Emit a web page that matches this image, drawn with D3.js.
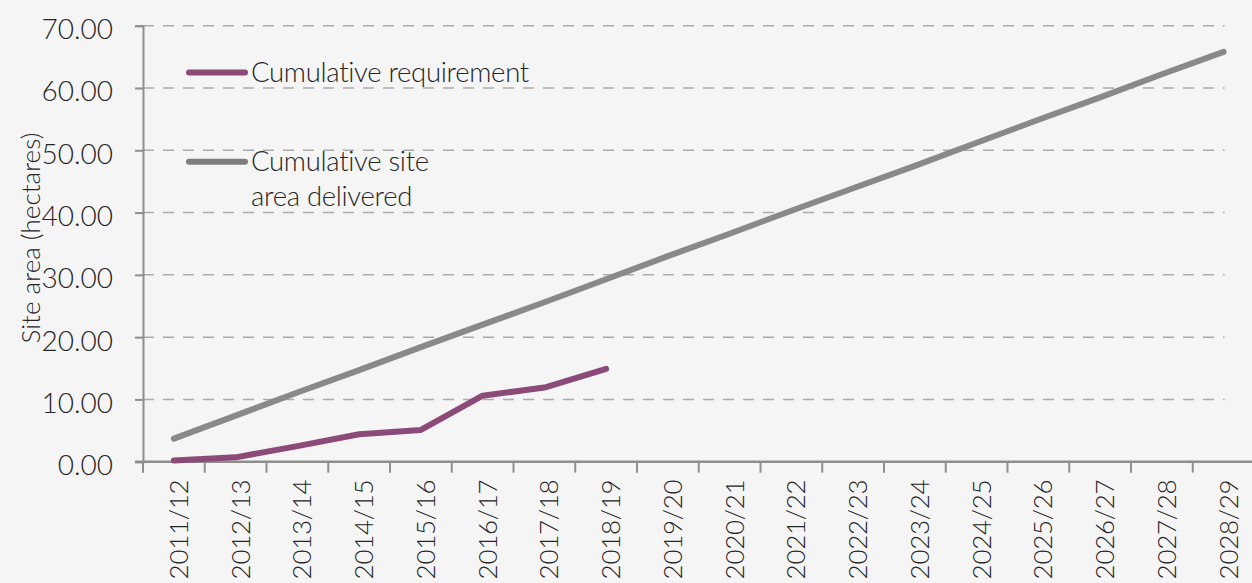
<!DOCTYPE html>
<html>
<head>
<meta charset="utf-8">
<script src="https://cdn.jsdelivr.net/npm/d3@7"></script>
<style>
  html, body { margin: 0; padding: 0; background: #f5f5f5; }
  svg { display: block; }
  text { font-family: Lato, "Open Sans", sans-serif; font-weight: 300; fill: #262626; }
</style>
</head>
<body>
<svg id="chart" width="1252" height="583"></svg>
<script>
// Financial years shown along the x axis
const years = ["2011/12", "2012/13", "2013/14", "2014/15", "2015/16", "2016/17",
  "2017/18", "2018/19", "2019/20", "2020/21", "2021/22", "2022/23", "2023/24",
  "2024/25", "2025/26", "2026/27", "2027/28", "2028/29"];

// Cumulative requirement (hectares), recorded up to 2018/19
const requirement = [0.2, 0.7, 2.5, 4.4, 5.1, 10.6, 11.9, 14.9];

// Cumulative site area delivered (hectares)
const delivered = [3.7, 7.4, 11.1, 14.7, 18.4, 22.0, 25.6, 29.3, 33.0, 36.6,
  40.3, 43.9, 47.5, 51.2, 54.9, 58.5, 62.2, 65.8];

// Value axis ticks
const yTicks = [0, 10, 20, 30, 40, 50, 60, 70];

const seriesNames = ["Cumulative requirement", "Cumulative site area delivered"];

const purple = "#8c4a78";
const grey = "#898989";
const axisGrey = "#8e8e8e";

const svg = d3.select("#chart");

const x = d3.scaleBand().domain(years).range([143, 1254.5]).padding(0);
const cx = d => x(d) + x.bandwidth() / 2;
const y = d3.scaleLinear().domain([0, 70]).range([461.7, 25.7]);

// Dashed horizontal gridlines
svg.append("g")
  .selectAll("line")
  .data(yTicks.filter(t => t > 0))
  .join("line")
  .attr("x1", x.range()[0])
  .attr("x2", cx(years[years.length - 1]) + 1)
  .attr("y1", d => y(d))
  .attr("y2", d => y(d))
  .attr("stroke", "#ababab")
  .attr("stroke-width", 1.5)
  .attr("stroke-dasharray", "11,9");

// Y axis
const yAxis = d3.axisLeft(y)
  .tickValues(yTicks)
  .tickFormat(d3.format(".2f"))
  .tickSize(8)
  .tickPadding(22);

const gy = svg.append("g")
  .attr("transform", `translate(${x.range()[0]},0)`)
  .call(yAxis);
gy.select(".domain").attr("stroke", axisGrey).attr("stroke-width", 2);
gy.selectAll(".tick line").attr("stroke", axisGrey).attr("stroke-width", 2);
gy.selectAll(".tick text")
  .attr("font-size", 28)
  .attr("dy", "0.46em")
  .style("font-family", "Lato, sans-serif")
  .style("font-weight", 300)
  .attr("fill", "#262626");

// X axis baseline with tick marks on category boundaries
const gx = svg.append("g");
gx.append("line")
  .attr("x1", x.range()[0] - 8)
  .attr("x2", x.range()[1])
  .attr("y1", y(0))
  .attr("y2", y(0))
  .attr("stroke", axisGrey)
  .attr("stroke-width", 2.5);
gx.selectAll("line.tick")
  .data(years.map(d => x(d)).concat([x.range()[1]]))
  .join("line")
  .attr("class", "tick")
  .attr("x1", d => d)
  .attr("x2", d => d)
  .attr("y1", y(0))
  .attr("y2", y(0) + 11)
  .attr("stroke", axisGrey)
  .attr("stroke-width", 2);
gx.selectAll("text")
  .data(years)
  .join("text")
  .attr("transform", d => `translate(${cx(d) + 3.5},${y(0) + 18}) rotate(-90)`)
  .attr("text-anchor", "end")
  .attr("dy", "0.4em")
  .attr("font-size", 26)
  .attr("letter-spacing", -0.3)
  .text(d => d);

// Y axis title
svg.append("text")
  .attr("transform", "translate(40,238) rotate(-90)")
  .attr("text-anchor", "middle")
  .attr("font-size", 26)
  .text("Site area (hectares)");

// Series lines
const line = d3.line()
  .x((d, i) => cx(years[i]))
  .y(d => y(d));

svg.append("path")
  .datum(delivered)
  .attr("d", line)
  .attr("fill", "none")
  .attr("stroke", grey)
  .attr("stroke-width", 6)
  .attr("stroke-linecap", "round")
  .attr("stroke-linejoin", "round");

svg.append("path")
  .datum(requirement)
  .attr("d", line)
  .attr("fill", "none")
  .attr("stroke", purple)
  .attr("stroke-width", 6)
  .attr("stroke-linecap", "round")
  .attr("stroke-linejoin", "round");

// Legend
const legend = svg.append("g");
const legendItems = [
  { name: seriesNames[0], color: purple, ly: 72.5, lines: ["Cumulative requirement"] },
  { name: seriesNames[1], color: "#7d7d7d", ly: 161.7, lines: ["Cumulative site", "area delivered"] }
];
legendItems.forEach(item => {
  legend.append("line")
    .attr("x1", 189).attr("x2", 245)
    .attr("y1", item.ly).attr("y2", item.ly)
    .attr("stroke", item.color)
    .attr("stroke-width", 6)
    .attr("stroke-linecap", "round");
  const t = legend.append("text")
    .attr("x", 251)
    .attr("y", item.ly + 9.5)
    .attr("font-size", 27.5)
    .attr("letter-spacing", -0.3);
  item.lines.forEach((ln, i) => {
    t.append("tspan").attr("x", 251).attr("dy", i === 0 ? 0 : 35).text(ln);
  });
});
</script>
</body>
</html>
